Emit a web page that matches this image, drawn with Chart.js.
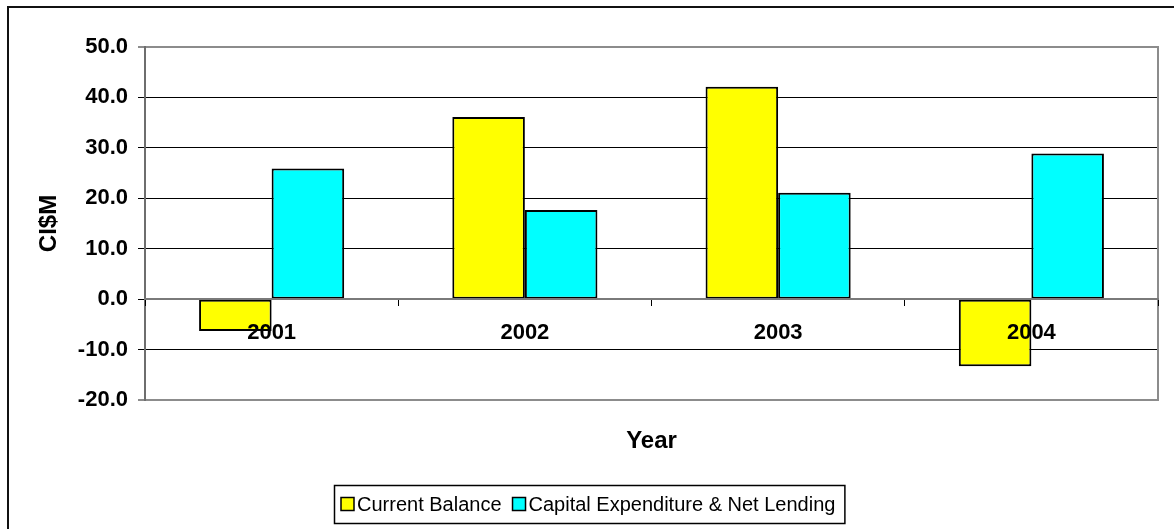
<!DOCTYPE html>
<html>
<head>
<meta charset="utf-8">
<title>Current Balance and Capital Expenditure</title>
<script src="https://cdn.jsdelivr.net/npm/chart.js@4.4.1/dist/chart.umd.min.js"></script>
<style>
  html, body { margin: 0; padding: 0; background: #ffffff; }
  #wrap { width: 1174px; height: 529px; position: relative; }
  canvas { display: block; }
</style>
</head>
<body>
<div id="wrap"><canvas id="chart" width="1174" height="529"></canvas></div>
<script>
// Data (CI$ millions)
const years = ['2001', '2002', '2003', '2004'];
const currentBalance = [-6.3, 36.1, 42.1, -13.3];
const capitalExpenditure = [25.9, 17.7, 21.1, 28.9];
const seriesNames = ['Current Balance', 'Capital Expenditure & Net Lending'];
const yMin = -20;
const yMax = 50;
const yStep = 10;

const FONT = '"Liberation Sans", Arial, Helvetica, sans-serif';

// Outer frame of the chart object (left and top edges visible)
const outerFrame = {
  id: 'outerFrame',
  beforeDraw(chart) {
    const ctx = chart.ctx;
    ctx.save();
    ctx.fillStyle = '#ffffff';
    ctx.fillRect(0, 0, chart.width, chart.height);
    ctx.strokeStyle = '#111111';
    ctx.lineWidth = 2;
    ctx.beginPath();
    ctx.moveTo(8, chart.height + 4);
    ctx.lineTo(8, 7);
    ctx.lineTo(chart.width + 4, 7);
    ctx.stroke();
    ctx.restore();
  }
};

// Right edge of the plot area
const plotFrame = {
  id: 'plotFrame',
  beforeDatasetsDraw(chart) {
    const a = chart.chartArea;
    const ctx = chart.ctx;
    ctx.save();
    ctx.strokeStyle = '#8c8c8c';
    ctx.lineWidth = 2;
    ctx.beginPath();
    ctx.moveTo(a.right, a.top - 1);
    ctx.lineTo(a.right, a.bottom + 1);
    ctx.stroke();
    ctx.restore();
  }
};

// Legend drawn inside a bordered box, centred under the chart
const boxedLegend = {
  id: 'boxedLegend',
  afterDraw(chart) {
    const ctx = chart.ctx;
    ctx.save();
    ctx.font = '20px ' + FONT;
    const sq = 13, gapTxt = 3, gapItem = 11, padL = 7, padR = 9, h = 38;
    const items = chart.data.datasets.map(d => ({
      text: d.label,
      color: d.backgroundColor,
      w: ctx.measureText(d.label).width
    }));
    let total = padL + padR;
    items.forEach((it, i) => {
      total += sq + gapTxt + it.w + (i < items.length - 1 ? gapItem : 0);
    });
    const left = Math.round(chart.width / 2 + 2 - total / 2);
    const top = chart.height - 44;
    ctx.fillStyle = '#ffffff';
    ctx.fillRect(left, top, total, h);
    ctx.strokeStyle = '#000000';
    ctx.lineWidth = 1.5;
    ctx.strokeRect(left + 0.5, top + 0.5, total, h);
    const cy = top + h / 2;
    let x = left + padL;
    ctx.textBaseline = 'middle';
    ctx.textAlign = 'left';
    items.forEach(it => {
      ctx.fillStyle = it.color;
      ctx.fillRect(x, cy - sq / 2, sq, sq);
      ctx.strokeStyle = '#000000';
      ctx.lineWidth = 1.5;
      ctx.strokeRect(x, cy - sq / 2, sq, sq);
      x += sq + gapTxt;
      ctx.fillStyle = '#000000';
      ctx.fillText(it.text, x, cy + 1);
      x += it.w + gapItem;
    });
    ctx.restore();
  }
};

const ctx = document.getElementById('chart').getContext('2d');
new Chart(ctx, {
  type: 'bar',
  data: {
    labels: years,
    datasets: [
      {
        label: seriesNames[0],
        data: currentBalance,
        backgroundColor: '#FFFF00',
        borderColor: '#000000',
        borderWidth: 2,
        borderSkipped: false
      },
      {
        label: seriesNames[1],
        data: capitalExpenditure,
        backgroundColor: '#00FFFF',
        borderColor: '#000000',
        borderWidth: 2,
        borderSkipped: false
      }
    ]
  },
  options: {
    responsive: false,
    animation: false,
    devicePixelRatio: 1,
    datasets: {
      bar: { categoryPercentage: 0.573, barPercentage: 1.0 }
    },
    layout: {
      padding: { left: 0, right: 16, top: 47, bottom: 69 }
    },
    plugins: {
      legend: { display: false },
      tooltip: { enabled: false }
    },
    scales: {
      x: {
        type: 'category',
        position: { y: 0 },
        offset: true,
        grid: {
          offset: true,
          drawOnChartArea: false,
          drawTicks: true,
          tickLength: 6,
          color: '#000000',
          lineWidth: 1,
          z: 1
        },
        border: { display: true, color: '#7a7a7a', width: 2, z: 1 },
        ticks: {
          z: 2,
          color: '#000000',
          padding: 15,
          maxRotation: 0,
          font: { family: FONT, size: 22, weight: 'bold' }
        }
      },
      xTitle: {
        type: 'category',
        position: 'bottom',
        labels: years,
        offset: true,
        grid: { display: false, drawTicks: false },
        border: { display: false },
        ticks: { display: false },
        title: {
          display: true,
          text: 'Year',
          color: '#000000',
          padding: { top: 0, bottom: 4 },
          font: { family: FONT, size: 24, weight: 'bold' }
        },
        afterFit(scale) { scale.height = 60; }
      },
      y: {
        type: 'linear',
        position: 'left',
        min: yMin,
        max: yMax,
        ticks: {
          stepSize: yStep,
          padding: 10,
          color: '#000000',
          font: { family: FONT, size: 22, weight: 'bold' },
          callback: v => Number(v).toFixed(1)
        },
        grid: {
          drawTicks: true,
          tickLength: 7,
          color: c => (c.tick && (c.tick.value === yMax || c.tick.value === yMin)) ? '#8c8c8c' : '#000000',
          lineWidth: c => (c.tick && (c.tick.value === yMax || c.tick.value === yMin)) ? 2 : 1
        },
        border: { display: true, color: '#6e6e6e', width: 2 },
        title: {
          display: true,
          text: 'CI$M',
          color: '#000000',
          padding: { top: 35, bottom: 0 },
          font: { family: FONT, size: 24, weight: 'bold' }
        },
        afterFit(scale) { scale.width = 145; }
      }
    }
  },
  plugins: [outerFrame, plotFrame, boxedLegend]
});
</script>
</body>
</html>
